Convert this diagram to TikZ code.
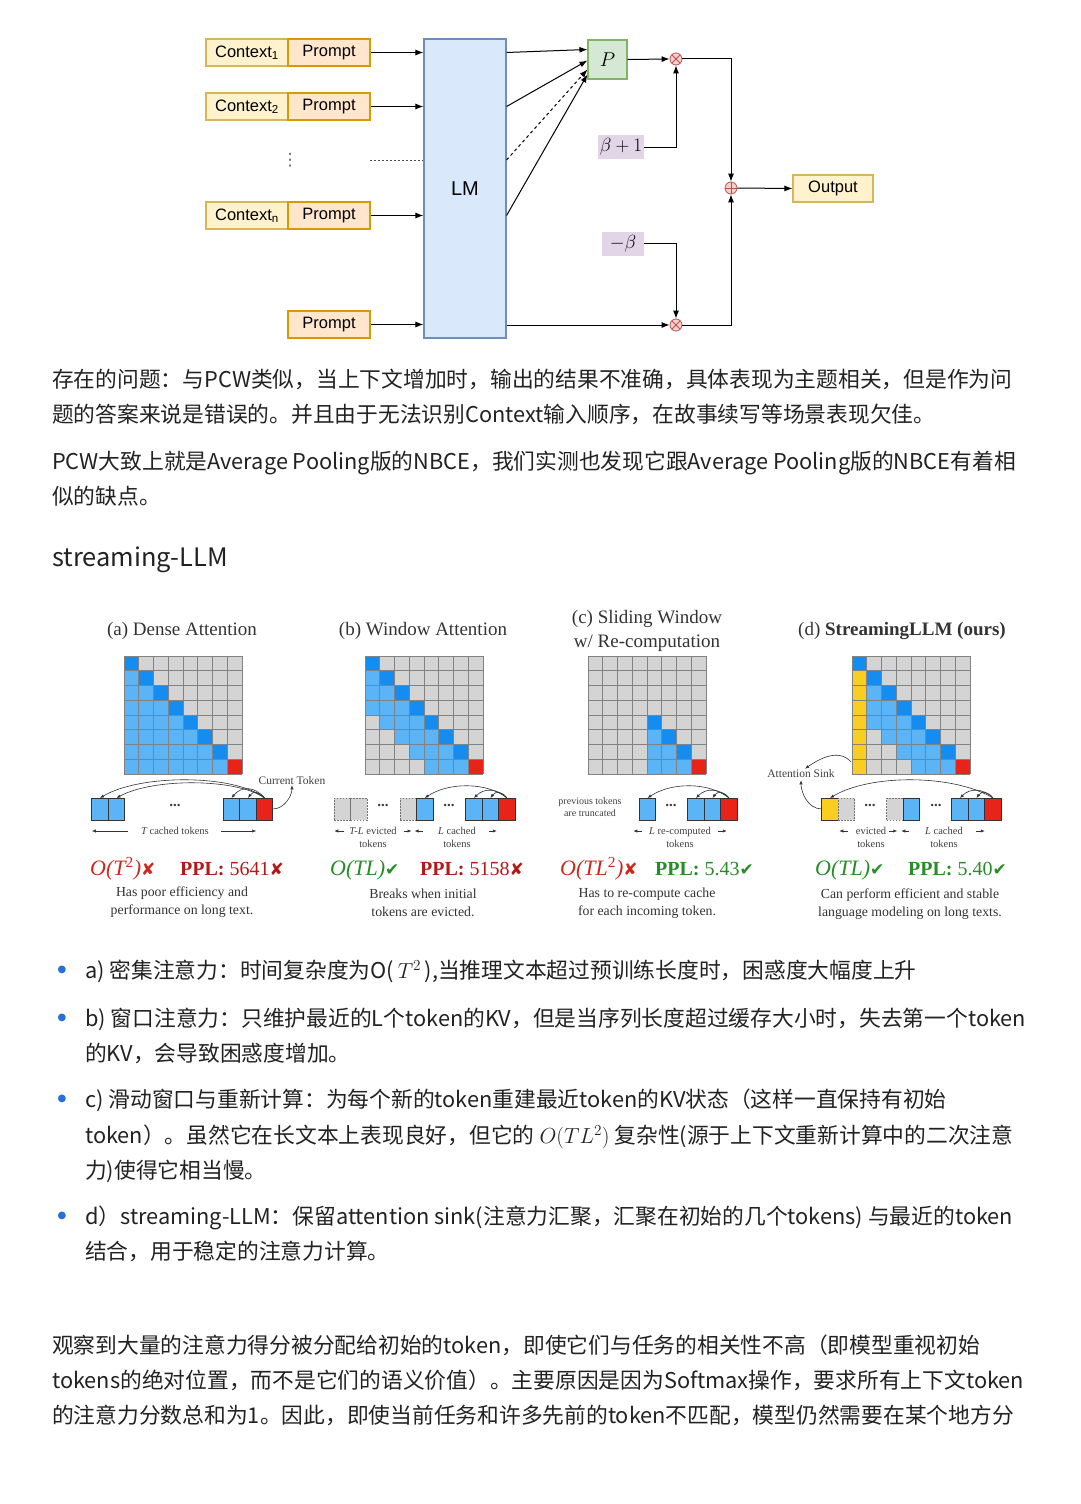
\RequirePackage{fix-cm}
\documentclass[tikz,border=0pt]{standalone}
\usepackage{fontspec}
\usetikzlibrary{arrows.meta,calc}
\newfontfamily\cjk{Noto Sans CJK SC}
\newfontfamily\arl{Liberation Sans}
\newfontfamily\tms{Liberation Serif}
\newfontfamily\dju{DejaVu Sans}
\newcommand\fsz[2]{\fontsize{#1}{#2}\selectfont}
\newcommand\ckm{{\dju\bfseries\fsz{17}{17}✔}}
\newcommand\xxm{{\dju\bfseries\fsz{17}{17}✘}}
\definecolor{tc}{RGB}{34,34,34}
\definecolor{bulc}{RGB}{40,110,215}
\definecolor{ctxf}{HTML}{FFF2CC}\definecolor{ctxb}{HTML}{D6B656}
\definecolor{prmf}{HTML}{FFE6CC}\definecolor{prmb}{HTML}{D79B00}
\definecolor{lmf}{HTML}{DAE8FC}\definecolor{lmb}{HTML}{6C8EBF}
\definecolor{pf}{HTML}{D5E8D4}\definecolor{pb}{HTML}{82B366}
\definecolor{opf}{HTML}{F8CECC}\definecolor{opb}{HTML}{B85450}
\definecolor{betf}{HTML}{E1D5E7}
\definecolor{mlight}{RGB}{90,180,245}
\definecolor{mdiag}{RGB}{20,140,240}
\definecolor{mgray}{RGB}{212,212,212}
\definecolor{mred}{RGB}{232,35,25}
\definecolor{myellow}{RGB}{250,205,35}
\definecolor{mgridc}{RGB}{130,130,130}
\definecolor{ored}{RGB}{205,40,30}
\definecolor{pred}{RGB}{180,25,25}
\definecolor{ogreen}{RGB}{40,140,40}
\def\cs{14.75}
\newcommand{\drawmat}[3]{%
\begin{scope}[shift={(#1,#2)}]
\foreach \i in {0,...,7}{\foreach \j in {0,...,7}{%
  \edef\mcol{mgray}%
  \ifcase#3\or
    \ifnum\j<\i \edef\mcol{mlight}\fi
    \ifnum\j=\i \edef\mcol{mdiag}\fi
  \or
    \ifnum\j<\i \ifnum\numexpr\i-\j\relax<4 \edef\mcol{mlight}\fi\fi
    \ifnum\j=\i \edef\mcol{mdiag}\fi
  \or
    \ifnum\i>3 \ifnum\j>3 \ifnum\j<\i \edef\mcol{mlight}\fi \ifnum\j=\i \edef\mcol{mdiag}\fi\fi\fi
  \or
    \ifnum\j<\i \ifnum\numexpr\i-\j\relax<4 \edef\mcol{mlight}\fi\fi
    \ifnum\j=\i \edef\mcol{mdiag}\fi
    \ifnum\j=0 \ifnum\i>0 \edef\mcol{myellow}\fi\fi
  \fi
  \ifnum\i=7 \ifnum\j=7 \edef\mcol{mred}\fi\fi
  \fill[\mcol] (\j*\cs,\i*\cs) rectangle ++(\cs,\cs);
}}
\foreach \k in {0,...,8}{%
  \draw[mgridc,line width=0.6] (\k*\cs,0) -- (\k*\cs,8*\cs);
  \draw[mgridc,line width=0.6] (0,\k*\cs) -- (8*\cs,\k*\cs);}
\end{scope}}
\tikzset{
 body/.style={anchor=base west, inner sep=0, text=tc, font=\cjk\fsz{21.75}{26}},
 blt/.style={anchor=center, inner sep=0, text=bulc, font=\dju\fsz{10}{10}},
 box/.style={line width=1.1, inner sep=0, minimum height=27, font=\arl\fsz{16.5}{18}},
 ctx/.style={box, draw=ctxb, fill=ctxf, minimum width=82},
 prm/.style={box, draw=prmb, fill=prmf, minimum width=82},
 arr/.style={-{Latex[length=8pt,width=6pt]}, line width=1},
 opc/.style={circle, draw=opb, fill=opf, minimum size=12, inner sep=0, line width=0.8},
 mul/.style={opc, path picture={\draw[opb,line width=0.8] ($(path picture bounding box.center)+(-4.2,-4.2)$) -- ($(path picture bounding box.center)+(4.2,4.2)$) ($(path picture bounding box.center)+(-4.2,4.2)$) -- ($(path picture bounding box.center)+(4.2,-4.2)$);}},
 addc/.style={opc, path picture={\draw[opb,line width=0.8] ($(path picture bounding box.center)+(-6,0)$) -- ($(path picture bounding box.center)+(6,0)$) ($(path picture bounding box.center)+(0,-6)$) -- ($(path picture bounding box.center)+(0,6)$);}},
 bet/.style={fill=betf, inner sep=0, minimum height=24, font=\fsz{19}{20}},
 tok/.style={draw=black!80, line width=0.7, minimum width=16.5, minimum height=22, inner sep=0, outer sep=0},
 tb/.style={tok, fill=mlight},
 tr/.style={tok, fill=mred},
 ty/.style={tok, fill=myellow},
 tg/.style={tok, fill=mgray, draw=black!55, dashed, dash pattern=on 1.5pt off 1.5pt},
 tarr/.style={-{Latex[length=4pt,width=3.2pt]}, line width=0.6, draw=black!80},
 sml/.style={font=\tms\fsz{10.5}{12.5}, text=black!75, inner sep=0, align=center},
 ttl/.style={font=\tms\fsz{19}{24}, text=black!80, inner sep=0, align=center},
 capt/.style={font=\tms\fsz{13.8}{18}, text=black!80, inner sep=0, align=center},
 dts/.style={font=\tms\bfseries\fsz{15}{15}, inner sep=0, text=black!75},
 onode/.style={anchor=base west, inner sep=0, font=\tms\fsz{22}{24}},
 pnode/.style={anchor=base west, inner sep=0, font=\tms\fsz{20}{24}},
}
\begin{document}
\begin{tikzpicture}[x=1pt,y=-1pt]
\fill[white] (0,0) rectangle (1080,1504);
\useasboundingbox (0,0) rectangle (1080,1504);
%% ---------- top diagram ----------
\node[ctx] (c1) at (247,52.5) {Context\textsubscript{1}};
\node[prm] (p1) at (329,52.5) {Prompt};
\node[ctx] (c2) at (247,106.5) {Context\textsubscript{2}};
\node[prm] (p2) at (329,106.5) {Prompt};
\node[ctx] (cn) at (247,215.5) {Context\textsubscript{n}};
\node[prm] (pn) at (329,215.5) {Prompt};
\node[prm] (p4) at (329,324.5) {Prompt};
\node[inner sep=0, text=black!60, font=\dju\fsz{17}{17}] (vd) at (290,160) {⋮};
\coordinate (dl) at (370,160);
\node[draw=lmb, fill=lmf, line width=1.1, minimum width=82, minimum height=299, inner sep=0, font=\arl\fsz{20}{22}] (lm) at (465,188.5) {LM};
\draw[arr] (p1.east) -- (lm.west |- p1);
\draw[arr] (p2.east) -- (lm.west |- p2);
\draw[arr] (pn.east) -- (lm.west |- pn);
\draw[arr] (p4.east) -- (lm.west |- p4);
\draw[line width=1, black!70, dash pattern=on 2pt off 2pt] (dl) -- (lm.west |- dl);
\node[draw=pb, fill=pf, line width=1.1, minimum width=39, minimum height=39, inner sep=0, font=\fsz{20}{20}] (P) at (607.5,59.5) {$P$};
\draw[arr] (lm.east |- p1) -- ($(P.west)+(0,-10)$);
\draw[arr] (lm.east |- p2) -- ($(P.west)+(0,1)$);
\draw[arr, dashed] (lm.east |- dl) -- ($(P.west)+(0,10)$);
\draw[arr] (lm.east |- pn) -- ($(P.west)+(0,15)$);
\node[mul] (m1) at (676,59) {};
\node[mul] (m2) at (676,325) {};
\node[addc] (ad) at (731,188) {};
\node[bet, minimum width=46] (b1) at (621,147) {$\beta+1$};
\node[bet, minimum width=42] (b2) at (623,243.5) {$-\beta$};
\node[ctx, minimum width=80] (out) at (833,188.5) {Output};
\draw[arr] (P.east) -- (m1.west);
\draw[arr] (b1.east) -| (m1.south);
\draw[arr] (m1.east) -| (ad.north);
\draw[arr] (b2.east) -| (m2.north);
\draw[arr] (lm.east |- m2) -- (m2.west);
\draw[arr] (m2.east) -| (ad.south);
\draw[arr] (ad.east) -- (out.west);
%% ---------- paragraphs ----------
\node[body] (t1) at (52,387) {存在的问题：与PCW类似，当上下文增加时，输出的结果不准确，具体表现为主题相关，但是作为问};
\node[body] (t2) at (52,422) {题的答案来说是错误的。并且由于无法识别Context输入顺序，在故事续写等场景表现欠佳。};
\node[body] (t3) at (52,469) {PCW大致上就是Average Pooling版的NBCE，我们实测也发现它跟Average Pooling版的NBCE有着相};
\node[body] (t4) at (52,504) {似的缺点。};
\node[body, font=\cjk\fsz{25.4}{30}] (hd) at (52,566) {streaming-LLM};
%% ---------- streaming figure ----------
\node[ttl] (ta) at (182,631) {(a) Dense Attention};
\node[ttl] (tb) at (423,631) {(b) Window Attention};
\node[ttl] (tcc) at (647,631) {(c) Sliding Window\\w/ Re-computation};
\node[ttl] (td) at (902,631) {(d) \textbf{StreamingLLM (ours)}};
\drawmat{124}{656}{1}
\drawmat{365}{656}{2}
\drawmat{588}{656}{3}
\drawmat{852}{656}{4}
% (a) tokens
\node[tb] (a1) at (100,809) {};
\node[tb] (a2) at (116.5,809) {};
\node[dts] (ad1) at (175,805) {...};
\node[tb] (a3) at (231.5,809) {};
\node[tb] (a4) at (248,809) {};
\node[tr] (a5) at (264.5,809) {};
\draw[tarr] (a5.north) .. controls +(-30,-24) and +(40,-24) .. (a1.north);
\draw[tarr] (a5.north) .. controls +(-28,-20) and +(36,-20) .. (a2.north);
\draw[tarr] (a5.north) .. controls +(-10,-12) and +(10,-12) .. (a3.north);
\draw[tarr] (a5.north) .. controls +(-5,-7) and +(5,-7) .. (a4.north);
\node[sml, font=\tms\fsz{11.5}{12}] (ctl) at (292,781) {Current Token};
\draw[tarr] (a5.east) .. controls +(12,0) and +(0,10) .. (ctl.south);
\node[sml] (tca) at (175,831) {\itshape T\upshape\ cached tokens};
\draw[tarr] ($(tca.west)+(-13,0)$) -- (a1.west |- tca);
\draw[tarr] ($(tca.east)+(12,0)$) -- (a4.east |- tca);
\node[onode, text=ored] (oa) at (90,875) {\itshape O(T\textsuperscript{\upshape 2})\upshape\xxm};
\node[pnode, text=pred] (pa) at (180,875) {\textbf{PPL:} 5641\xxm};
\node[capt] (ca) at (182,902) {Has poor efficiency and\\performance on long text.};
% (b) tokens
\node[tg] (bb1) at (342.5,809) {};
\node[tg] (bb2) at (359,809) {};
\node[dts] (bd1) at (383,805) {...};
\node[tg] (bb3) at (408.25,809) {};
\node[tb] (bb4) at (424.75,809) {};
\node[dts] (bd2) at (449,805) {...};
\node[tb] (bb5) at (474,809) {};
\node[tb] (bb6) at (490.5,809) {};
\node[tr] (bb7) at (507,809) {};
\draw[tarr] (bb7.north) .. controls +(-20,-16) and +(24,-16) .. (bb4.north);
\draw[tarr] (bb7.north) .. controls +(-10,-10) and +(10,-10) .. (bb5.north);
\draw[tarr] (bb7.north) .. controls +(-5,-7) and +(5,-7) .. (bb6.north);
\node[sml] (tle) at (373,837.5) {\itshape T-L\upshape\ evicted\\tokens};
\node[sml] (tlc) at (457,837.5) {\itshape L\upshape\ cached\\tokens};
\draw[tarr] ($(bb1.west)+(10,22)$) -- ($(bb1.west)+(0,22)$);
\draw[tarr] ($(bb4.west)+(-13,22)$) -- ($(bb4.west)+(-5,22)$);
\draw[tarr] ($(bb4.west)+(6,22)$) -- ($(bb4.west)+(-2,22)$);
\draw[tarr] ($(bb7.west)+(-10,22)$) -- ($(bb7.west)+(-2,22)$);
\node[onode, text=ogreen] (ob) at (330,875) {\itshape O(TL)\upshape\ckm};
\node[pnode, text=pred] (pb) at (420,875) {\textbf{PPL:} 5158\xxm};
\node[capt] (cb) at (423,903) {Breaks when initial\\tokens are evicted.};
% (c) tokens
\node[sml, font=\tms\fsz{10}{12}] (prv) at (590,807) {previous tokens\\are truncated};
\node[tb] (cc1) at (647.5,809) {};
\node[dts] (cd1) at (671,805) {...};
\node[tb] (cc2) at (696,809) {};
\node[tb] (cc3) at (712.5,809) {};
\node[tr] (cc4) at (729,809) {};
\draw[tarr] (cc4.north) .. controls +(-20,-16) and +(24,-16) .. (cc1.north);
\draw[tarr] (cc4.north) .. controls +(-10,-10) and +(10,-10) .. (cc2.north);
\draw[tarr] (cc4.north) .. controls +(-5,-7) and +(5,-7) .. (cc3.north);
\node[sml] (lrc) at (680,837.5) {\itshape L\upshape\ re-computed\\tokens};
\draw[tarr] ($(cc1.west)+(3,22)$) -- ($(cc1.west)+(-6,22)$);
\draw[tarr] ($(cc4.west)+(-3,22)$) -- ($(cc4.west)+(6,22)$);
\node[onode, text=ored] (oc) at (560,875) {\itshape O(TL\textsuperscript{\upshape 2})\upshape\xxm};
\node[pnode, text=ogreen] (pc) at (655,875) {\textbf{PPL:} 5.43\ckm};
\node[capt] (ccap) at (647,903) {Has to re-compute cache\\for each incoming token.};
% (d) tokens
\node[ty] (dd1) at (830,809) {};
\node[tg] (dd2) at (846.5,809) {};
\node[dts] (dd0) at (870,805) {...};
\node[tg] (dd3) at (895,809) {};
\node[tb] (dd4) at (911.5,809) {};
\node[dts] (ddx) at (936,805) {...};
\node[tb] (dd5) at (960,809) {};
\node[tb] (dd6) at (976.5,809) {};
\node[tr] (dd7) at (993,809) {};
\draw[tarr] (dd7.north) .. controls +(-40,-24) and +(40,-24) .. (dd1.north);
\draw[tarr] (dd7.north) .. controls +(-10,-10) and +(10,-10) .. (dd5.north);
\draw[tarr] (dd7.north) .. controls +(-5,-7) and +(5,-7) .. (dd6.north);
\node[sml, font=\tms\fsz{11.5}{12}] (asl) at (801,774) {Attention Sink};
\coordinate (ms) at (851,762);
\draw[tarr] (ms) .. controls +(-12,-14) and +(14,-10) .. ($(asl.north)+(4,-1)$);
\draw[tarr] (dd1.west) .. controls +(-14,0) and +(0,12) .. ($(asl.south)+(0,2)$);
\node[sml] (evd) at (871,837.5) {evicted\\tokens};
\node[sml] (lcd) at (944,837.5) {\itshape L\upshape\ cached\\tokens};
\draw[tarr] ($(dd1.east)+(10,22)$) -- ($(dd1.east)+(1,22)$);
\draw[tarr] ($(dd4.west)+(-14,22)$) -- ($(dd4.west)+(-6,22)$);
\draw[tarr] ($(dd4.west)+(6,22)$) -- ($(dd4.west)+(-2,22)$);
\draw[tarr] ($(dd7.west)+(-9,22)$) -- ($(dd7.west)+(0,22)$);
\node[onode, text=ogreen] (od) at (815,875) {\itshape O(TL)\upshape\ckm};
\node[pnode, text=ogreen] (pd) at (908,875) {\textbf{PPL:} 5.40\ckm};
\node[capt] (cd) at (910,904) {Can perform efficient and stable\\language modeling on long texts.};
%% ---------- bullets ----------
\node[blt] (u1) at (62,970) {●};
\node[body] (l1) at (85,978) {a) 密集注意力：时间复杂度为O(\,$T^2$\,),当推理文本超过预训练长度时，困惑度大幅度上升};
\node[blt] (u2) at (62,1018) {●};
\node[body] (l2) at (85,1026) {b) 窗口注意力：只维护最近的L个token的KV，但是当序列长度超过缓存大小时，失去第一个token};
\node[body] (l2b) at (85,1061) {的KV，会导致困惑度增加。};
\node[blt] (u3) at (62,1099) {●};
\node[body] (l3) at (85,1107) {c) 滑动窗口与重新计算：为每个新的token重建最近token的KV状态（这样一直保持有初始};
\node[body] (l3b) at (85,1143) {token）。虽然它在长文本上表现良好，但它的 $O(TL^2)$ 复杂性(源于上下文重新计算中的二次注意};
\node[body] (l3c) at (85,1178) {力)使得它相当慢。};
\node[blt] (u4) at (62,1216) {●};
\node[body] (l4) at (85,1224) {d）streaming-LLM：保留attention sink(注意力汇聚，汇聚在初始的几个tokens) 与最近的token};
\node[body] (l4b) at (85,1259) {结合，用于稳定的注意力计算。};
%% ---------- last paragraph ----------
\node[body] (q1) at (52,1353) {观察到大量的注意力得分被分配给初始的token，即使它们与任务的相关性不高（即模型重视初始};
\node[body] (q2) at (52,1388) {tokens的绝对位置，而不是它们的语义价值）。主要原因是因为Softmax操作，要求所有上下文token};
\node[body] (q3) at (52,1423) {的注意力分数总和为1。因此，即使当前任务和许多先前的token不匹配，模型仍然需要在某个地方分};
\end{tikzpicture}
\end{document}
